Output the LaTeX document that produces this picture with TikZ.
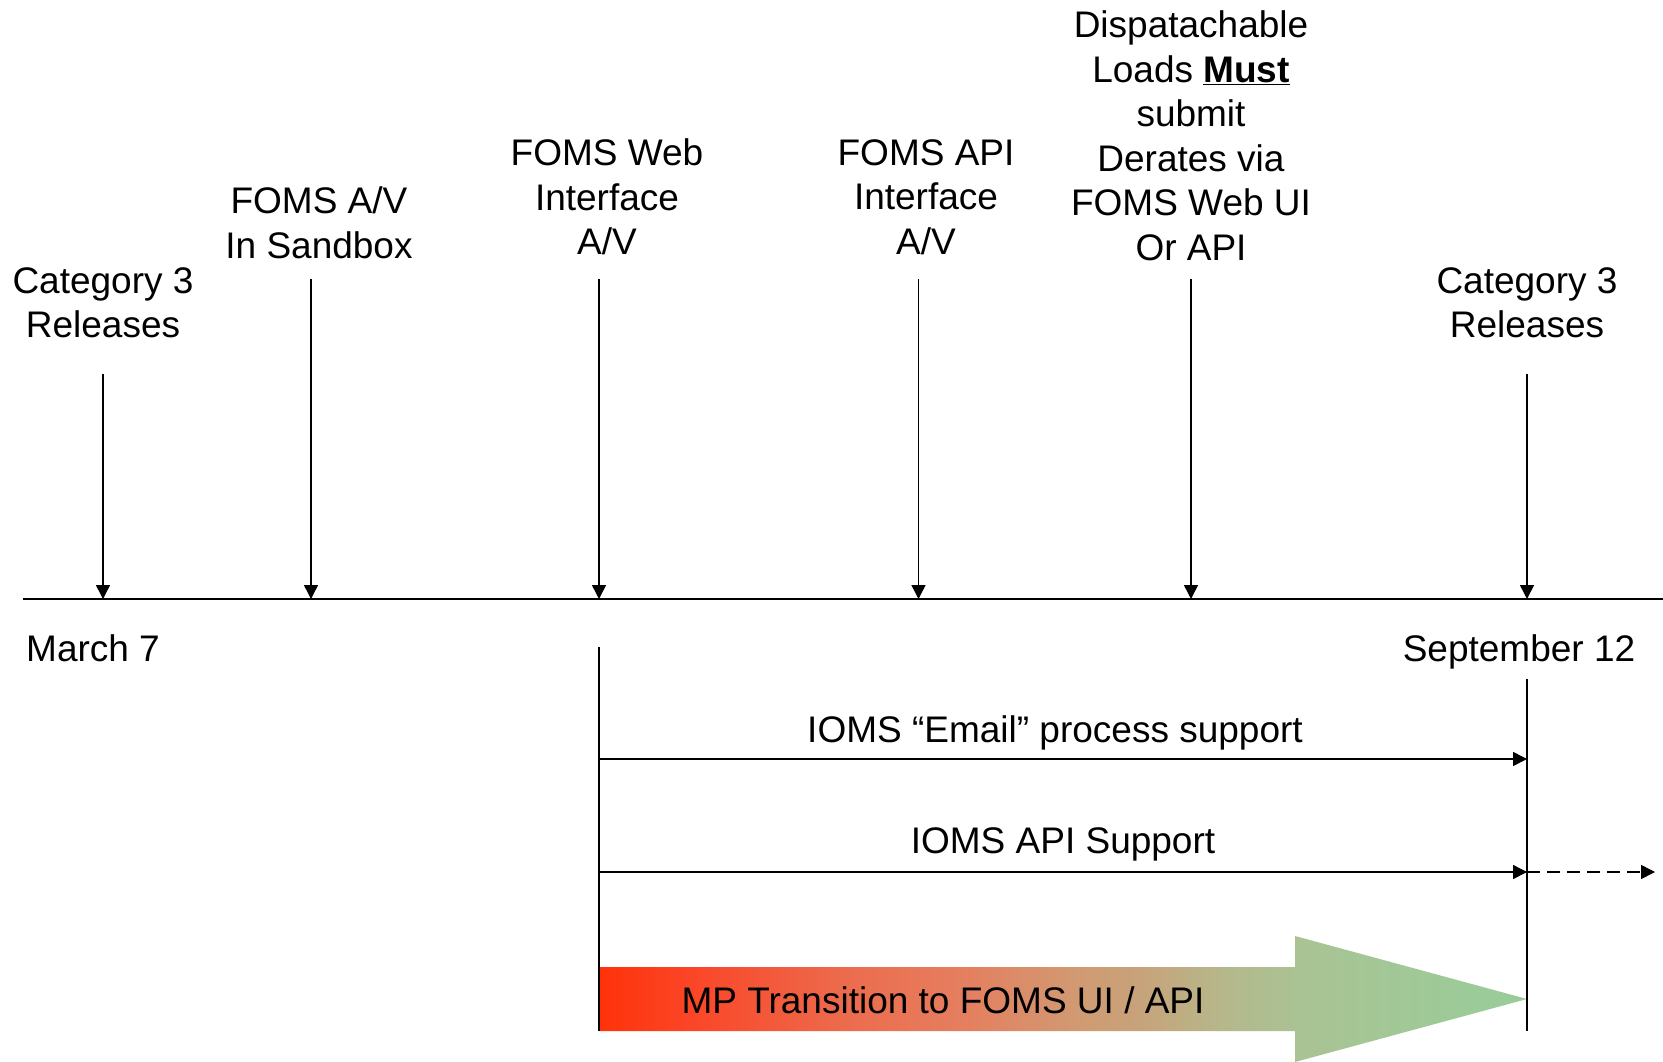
\documentclass[tikz,border=0pt]{standalone}
\usepackage{fontspec}
\setmainfont{Liberation Sans}
\usetikzlibrary{arrows.meta}
\definecolor{g0}{RGB}{255,50,10}
\definecolor{g1}{RGB}{250,72,42}
\definecolor{g2}{RGB}{236,108,78}
\definecolor{g3}{RGB}{228,128,96}
\definecolor{g4}{RGB}{208,155,115}
\definecolor{g5}{RGB}{200,162,122}
\definecolor{g6}{RGB}{180,185,140}
\definecolor{g7}{RGB}{170,195,148}
\definecolor{g8}{RGB}{155,203,152}
\definecolor{g9}{RGB}{152,204,152}
\pgfdeclarehorizontalshading{mpshade}{100bp}{color(0bp)=(g0); color(25bp)=(g0); color(30.5bp)=(g1); color(38.5bp)=(g2); color(45bp)=(g3); color(51bp)=(g4); color(54bp)=(g5); color(59bp)=(g6); color(63bp)=(g7); color(72bp)=(g8); color(75bp)=(g9); color(100bp)=(g9)}
\begin{document}
\begin{tikzpicture}[x=1pt,y=-1pt,
  lbl/.style={inner sep=0pt, align=center, font=\fontsize{37}{44.5}\selectfont},
  conn/.style={line width=1.5pt, -{Triangle[length=14pt,width=14pt]}},
  plainline/.style={line width=1.5pt}]
\fill[white] (0,0) rectangle (1663,1062);
\useasboundingbox (0,0) rectangle (1663,1062);
% gradient arrow
\shade[shading=mpshade]
  (599,967) -- (1295,967) -- (1295,936) -- (1527,999) -- (1295,1062) -- (1295,1031) -- (599,1031) -- cycle;
\node[lbl] (mp) at (943,1000) {MP Transition to FOMS UI / API};
% timeline
\coordinate (tl) at (23,599);
\coordinate (tr) at (1663,599);
\draw[plainline] (tl) -- (tr);
% top labels
\node[lbl] (c3l) at (103,303) {Category 3\\Releases};
\node[lbl] (sand) at (319,223) {FOMS A/V\\In Sandbox};
\node[lbl] (web) at (607,197) {FOMS Web\\Interface\\A/V};
\node[lbl] (api) at (926,197) {FOMS API\\Interface\\A/V};
\node[lbl] (disp) at (1191,136) {Dispatachable\\Loads \underline{\textbf{Must}}\\submit\\Derates via\\FOMS Web UI\\Or API};
\node[lbl] (c3r) at (1527,303) {Category 3\\Releases};
% vertical arrows
\coordinate (a1s) at (103,374); \coordinate (a1e) at (103,599);
\coordinate (a2s) at (311,279); \coordinate (a2e) at (311,599);
\coordinate (a3s) at (599,279); \coordinate (a3e) at (599,599);
\coordinate (a4s) at (918.5,279); \coordinate (a4e) at (918.5,599);
\coordinate (a5s) at (1191,279); \coordinate (a5e) at (1191,599);
\coordinate (a6s) at (1527,374); \coordinate (a6e) at (1527,599);
\draw[conn] (a1s) -- (a1e);
\draw[conn] (a2s) -- (a2e);
\draw[conn] (a3s) -- (a3e);
\draw[conn] (a4s) -- (a4e);
\draw[conn] (a5s) -- (a5e);
\draw[conn] (a6s) -- (a6e);
% dates
\node[lbl, anchor=west] (mar) at (26,648) {March 7};
\node[lbl] (sep) at (1519,651.5) {September 12};
% lower verticals
\coordinate (lvs) at (599,647); \coordinate (lve) at (599,1031);
\coordinate (rvs) at (1527,679); \coordinate (rve) at (1527,1031);
\draw[plainline] (lvs) -- (lve);
\draw[plainline] (rvs) -- (rve);
% horizontal arrows
\node[lbl] (email) at (1055,732.5) {IOMS “Email” process support};
\coordinate (e1) at (599,759); \coordinate (e2) at (1527,759);
\draw[conn] (e1) -- (e2);
\node[lbl] (apis) at (1063,844.5) {IOMS API Support};
\coordinate (p1) at (599,872); \coordinate (p2) at (1527,872); \coordinate (p3) at (1655,872);
\draw[conn] (p1) -- (p2);
\draw[conn, dash pattern=on 13pt off 7pt] (p2) -- (p3);
\end{tikzpicture}
\end{document}
